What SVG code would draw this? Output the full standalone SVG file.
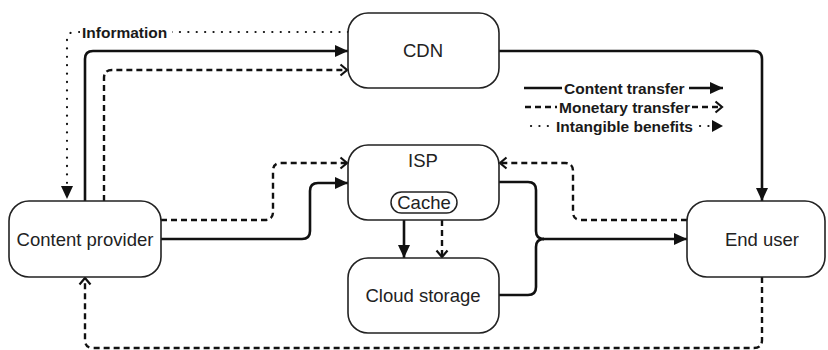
<svg xmlns="http://www.w3.org/2000/svg" width="828" height="350" viewBox="0 0 828 350">
  <style>
    .box { fill: #fff; stroke: #222; stroke-width: 1.6; }
    .pill { fill: #fff; stroke: #222; stroke-width: 1.5; }
    .label { font-family: "Liberation Sans", Arial, sans-serif; font-size: 18.5px; fill: #222; text-anchor: middle; }
    .legend { font-family: "Liberation Sans", Arial, sans-serif; font-size: 15.5px; font-weight: bold; fill: #1a1a1a; }
    .solid { fill: none; stroke: #111; stroke-width: 2.6; }
    .dashed { fill: none; stroke: #111; stroke-width: 2.4; stroke-dasharray: 6 4; }
    .dotted { fill: none; stroke: #111; stroke-width: 2.2; stroke-dasharray: 0.1 8.3; stroke-linecap: round; }
  </style>
  <defs>
    <marker id="filled" markerUnits="userSpaceOnUse" markerWidth="14" markerHeight="12" refX="13" refY="6" orient="auto">
      <path d="M0,0 L13,6 L0,12 z" fill="#111"/>
    </marker>
    <marker id="chevron" markerUnits="userSpaceOnUse" markerWidth="10" markerHeight="14" refX="8" refY="7" orient="auto">
      <path d="M1.5,1.5 L8,7 L1.5,12.5" fill="none" stroke="#111" stroke-width="2.2"/>
    </marker>
  </defs>

  <!-- connectors -->
  <g id="connectors">
    <!-- information: CDN to content provider -->
    <path class="dotted" d="M348,32 H75 Q67,32 67,40 V199" marker-end="url(#filled)"/>
    <rect x="80" y="22" width="92" height="20" fill="#fff"/>
    <text class="legend" x="82" y="37.5">Information</text>

    <!-- content provider to CDN -->
    <path class="solid" d="M85,201 V59 Q85,51 93,51 H348" marker-end="url(#filled)"/>
    <path class="dashed" d="M104,201 V78 Q104,70 112,70 H347" marker-end="url(#chevron)"/>

    <!-- CDN to end user -->
    <path class="solid" d="M499,51 H754 Q762,51 762,59 V201" marker-end="url(#filled)"/>

    <!-- content provider to ISP -->
    <path class="dashed" d="M161,220 H265 Q273,220 273,212 V171 Q273,163 281,163 H347" marker-end="url(#chevron)"/>
    <path class="solid" d="M161,239 H302 Q310,239 310,231 V191 Q310,183 318,183 H348" marker-end="url(#filled)"/>

    <!-- ISP to cloud storage -->
    <path class="solid" d="M404,220 V258" marker-end="url(#filled)"/>
    <path class="dashed" d="M442,220 V257" marker-end="url(#chevron)"/>

    <!-- ISP and cloud storage merge into end user -->
    <path class="solid" d="M499,182 H528 Q536,182 536,190 V231 Q536,239 544,239"/>
    <path class="solid" d="M499,295 H528 Q536,295 536,287 V247 Q536,239 544,239"/>
    <path class="solid" d="M543,239 H687" marker-end="url(#filled)"/>

    <!-- end user to ISP -->
    <path class="dashed" d="M687,220 H581 Q573,220 573,212 V171 Q573,163 565,163 H500" marker-end="url(#chevron)"/>

    <!-- end user to content provider -->
    <path class="dashed" d="M762,277 V340 Q762,348 754,348 H93 Q85,348 85,340 V278" marker-end="url(#chevron)"/>
  </g>

  <!-- legend -->
  <g id="legend">
    <path class="solid" d="M524,88 H562"/>
    <text class="legend" x="564" y="93.5">Content transfer</text>
    <path class="solid" d="M689,88 H723" marker-end="url(#filled)"/>

    <path class="dashed" d="M525,107 H557"/>
    <text class="legend" x="559" y="112.5">Monetary transfer</text>
    <path class="dashed" d="M692,107 H722" marker-end="url(#chevron)"/>

    <path class="dotted" d="M531,126 H552"/>
    <text class="legend" x="556" y="131.5">Intangible benefits</text>
    <path class="dotted" d="M700,126 H710"/>
    <path d="M712,120 L723,126 L712,132 z" fill="#111"/>
  </g>

  <!-- nodes -->
  <g id="cdn">
    <rect class="box" x="348" y="13" width="151" height="75" rx="20"/>
    <text class="label" x="423" y="57">CDN</text>
  </g>
  <g id="isp">
    <rect class="box" x="348" y="145" width="151" height="75" rx="20"/>
    <text class="label" x="423" y="167">ISP</text>
    <g id="cache">
      <rect class="pill" x="391" y="192" width="66" height="21" rx="10.5"/>
      <text class="label" x="424" y="209">Cache</text>
    </g>
  </g>
  <g id="cloud-storage">
    <rect class="box" x="348" y="258" width="151" height="75" rx="20"/>
    <text class="label" x="423" y="302">Cloud storage</text>
  </g>
  <g id="content-provider">
    <rect class="box" x="9" y="201" width="152" height="76" rx="20"/>
    <text class="label" x="85" y="246">Content provider</text>
  </g>
  <g id="end-user">
    <rect class="box" x="687" y="201" width="138" height="76" rx="20"/>
    <text class="label" x="762" y="246">End user</text>
  </g>
</svg>
